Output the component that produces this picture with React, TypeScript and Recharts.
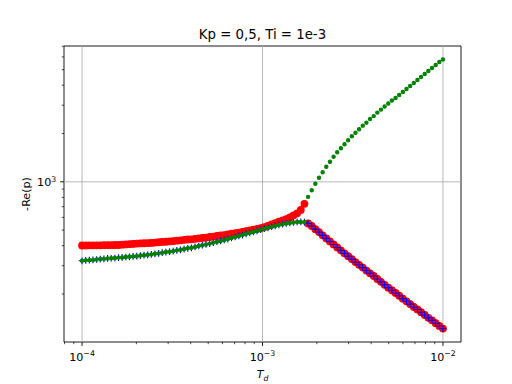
import React from 'react';
import {
  ScatterChart,
  Scatter,
  XAxis,
  YAxis,
  ReferenceLine,
  ReferenceArea,
} from 'recharts';

// derivative time constant, 100 log-spaced steps
const tdValues = [
  1.0e-4, 1.0476e-4, 1.0975e-4, 1.1498e-4, 1.2045e-4, 1.2619e-4, 1.3219e-4, 1.3849e-4, 1.4508e-4, 1.5199e-4,
  1.5923e-4, 1.6681e-4, 1.7475e-4, 1.8307e-4, 1.9179e-4, 2.0092e-4, 2.1049e-4, 2.2051e-4, 2.3101e-4, 2.4201e-4,
  2.5354e-4, 2.6561e-4, 2.7826e-4, 2.9151e-4, 3.0539e-4, 3.1993e-4, 3.3516e-4, 3.5112e-4, 3.6784e-4, 3.8535e-4,
  4.037e-4, 4.2292e-4, 4.4306e-4, 4.6416e-4, 4.8626e-4, 5.0941e-4, 5.3367e-4, 5.5908e-4, 5.857e-4, 6.1359e-4,
  6.4281e-4, 6.7342e-4, 7.0548e-4, 7.3907e-4, 7.7426e-4, 8.1113e-4, 8.4975e-4, 8.9022e-4, 9.326e-4, 9.7701e-4,
  1.0235e-3, 1.0723e-3, 1.1233e-3, 1.1768e-3, 1.2328e-3, 1.2915e-3, 1.353e-3, 1.4175e-3, 1.485e-3, 1.5557e-3,
  1.6298e-3, 1.7074e-3, 1.7886e-3, 1.8738e-3, 1.963e-3, 2.0565e-3, 2.1544e-3, 2.257e-3, 2.3645e-3, 2.4771e-3,
  2.595e-3, 2.7186e-3, 2.848e-3, 2.9836e-3, 3.1257e-3, 3.2745e-3, 3.4305e-3, 3.5938e-3, 3.7649e-3, 3.9442e-3,
  4.132e-3, 4.3288e-3, 4.5349e-3, 4.7508e-3, 4.977e-3, 5.214e-3, 5.4623e-3, 5.7224e-3, 5.9948e-3, 6.2803e-3,
  6.5793e-3, 6.8926e-3, 7.2208e-3, 7.5646e-3, 7.9248e-3, 8.3022e-3, 8.6975e-3, 9.1116e-3, 9.5455e-3, 1.0e-2,
];

// -Re(p) branches
const upperLeft = [
  401, 401, 402, 402, 402, 402, 403, 403, 403, 404,
  404, 406, 407, 409, 410, 412, 413, 414, 415, 416,
  418, 420, 422, 423, 425, 427, 430, 432, 435, 437,
  438, 441, 444, 447, 449, 453, 456, 460, 463, 466,
  470, 475, 479, 483, 488, 493, 498, 503, 508, 514,
  522, 532, 542, 553, 564, 574, 585, 600, 618, 636,
  668, 729,
];
const lowerLeft = [
  322, 324, 325, 326, 328, 330, 331, 333, 334, 335,
  337, 338, 340, 341, 343, 344, 347, 349, 351, 353,
  356, 358, 362, 365, 367, 370, 374, 377, 381, 385,
  388, 393, 398, 403, 407, 412, 418, 423, 428, 434,
  440, 447, 453, 460, 466, 474, 481, 488, 495, 503,
  510, 517, 525, 532, 539, 544, 550, 554, 558, 562,
  562, 560,
];
const lowerRight = [
  550, 531, 507, 486, 464, 444, 425, 407, 390, 374,
  358, 344, 330, 316, 304, 292, 280, 269, 259, 248,
  238, 228, 219, 211, 203, 195, 187, 180, 173, 166,
  160, 154, 148, 142, 137, 131.5, 126.4, 121.8,
];
const upperRight = [
  806, 885, 972, 1059, 1146, 1241, 1334, 1433, 1529, 1619,
  1714, 1815, 1923, 2023, 2128, 2239, 2338, 2460, 2567, 2700,
  2818, 2943, 3073, 3208, 3325, 3472, 3625, 3785, 3952, 4127,
  4308, 4498, 4696, 4903, 5120, 5345, 5581, 5788,
];

const xMajor = [1e-4, 1e-3, 1e-2];
const xMinor = [
  8e-5, 9e-5,
  2e-4, 3e-4, 4e-4, 5e-4, 6e-4, 7e-4, 8e-4, 9e-4,
  2e-3, 3e-3, 4e-3, 5e-3, 6e-3, 7e-3, 8e-3, 9e-3,
];
const yMajor = [1000];
const yMinor = [200, 300, 400, 500, 600, 700, 800, 900, 2000, 3000, 4000, 5000, 6000, 7000];

const xDomain = [7.943e-5, 1.2589e-2];
const yDomain = [100.4, 7021];

const FONT = 'DejaVu Sans';

const redData = tdValues.map((td, i) => ({
  td,
  re: i < upperLeft.length ? upperLeft[i] : lowerRight[i - upperLeft.length],
}));
const blueData = tdValues.map((td, i) => ({
  td,
  re: i < lowerLeft.length ? lowerLeft[i] : lowerRight[i - lowerLeft.length],
}));
const greenData = tdValues.map((td, i) => ({
  td,
  re: i < lowerLeft.length ? lowerLeft[i] : upperRight[i - lowerLeft.length],
}));

const expOf = (v: number) => String(Math.round(Math.log10(v))).replace('-', '\u2212');

const XTick = (props: any) => {
  const { x, y, payload } = props;
  const major = xMajor.includes(payload.value);
  return (
    <g>
      <line x1={x} x2={x} y1={y} y2={y + (major ? 3.9 : 2.2)} stroke="#000" strokeWidth={major ? 0.9 : 0.7} />
      {major && (
        <text x={x} y={y + 18.5} textAnchor="middle" fontFamily={FONT} fontSize={11.1} fill="#000">
          10
          <tspan dy={-4.8} fontSize={7.8}>{expOf(payload.value)}</tspan>
        </text>
      )}
    </g>
  );
};

const YTick = (props: any) => {
  const { x, y, payload } = props;
  const major = yMajor.includes(payload.value);
  return (
    <g>
      <line x1={x} x2={x - (major ? 3.9 : 2.2)} y1={y} y2={y} stroke="#000" strokeWidth={major ? 0.9 : 0.7} />
      {major && (
        <text x={x - 7.8} y={y + 4.5} textAnchor="end" fontFamily={FONT} fontSize={11.1} fill="#000">
          10
          <tspan dy={-4.8} fontSize={7.8}>{expOf(payload.value)}</tspan>
        </text>
      )}
    </g>
  );
};

const RedDot = (p: any) => (
  <circle cx={p.cx} cy={p.cy} r={3.35} fill="#ff0000" stroke="#ff0000" strokeWidth={1.1} />
);
const BluePlus = (p: any) => (
  <path
    d={`M${p.cx - 3.35},${p.cy}H${p.cx + 3.35}M${p.cx},${p.cy - 3.35}V${p.cy + 3.35}`}
    stroke="#0000ff"
    strokeWidth={1.1}
    fill="none"
  />
);
const GreenDot = (p: any) => (
  <circle cx={p.cx} cy={p.cy} r={1.67} fill="#008000" stroke="#008000" strokeWidth={1.1} />
);

export default function App() {
  return (
    <div style={{ position: 'absolute', left: 0, top: 0, background: '#fff' }}>
      <ScatterChart width={512} height={384} margin={{ top: 46, right: 51, bottom: 0, left: 0 }}>
        <XAxis
          dataKey="td"
          type="number"
          scale="log"
          domain={xDomain}
          allowDataOverflow
          ticks={[...xMajor, ...xMinor]}
          interval={0}
          tick={<XTick />}
          tickSize={0}
          tickMargin={0}
          tickLine={false}
          axisLine={false}
          height={42}
        />
        <YAxis
          dataKey="re"
          type="number"
          scale="log"
          domain={yDomain}
          allowDataOverflow
          ticks={[...yMajor, ...yMinor]}
          interval={0}
          tick={<YTick />}
          tickSize={0}
          tickMargin={0}
          tickLine={false}
          axisLine={false}
          width={64}
        />
        {xMajor.map((v) => (
          <ReferenceLine key={`gx${v}`} x={v} stroke="#b0b0b0" strokeWidth={0.9} />
        ))}
        {yMajor.map((v) => (
          <ReferenceLine key={`gy${v}`} y={v} stroke="#b0b0b0" strokeWidth={0.9} />
        ))}
        <Scatter data={redData} shape={RedDot} isAnimationActive={false} />
        <Scatter data={blueData} shape={BluePlus} isAnimationActive={false} />
        <Scatter data={greenData} shape={GreenDot} isAnimationActive={false} />
        <ReferenceArea
          x1={xDomain[0]}
          x2={xDomain[1]}
          y1={yDomain[0]}
          y2={yDomain[1]}
          fill="none"
          stroke="#000"
          strokeWidth={0.9}
        />
        <text x={262.5} y={39.3} textAnchor="middle" fontFamily={FONT} fontSize={13.3} fill="#000">
          Kp = 0,5, Ti = 1e-3
        </text>
        <text x={262.5} y={378} textAnchor="middle" fontFamily={FONT} fontSize={11.1} fontStyle="italic" fill="#000">
          T
          <tspan dy={2.6} fontSize={7.8}>d</tspan>
        </text>
        <text
          x={29.5}
          y={194}
          textAnchor="middle"
          transform="rotate(-90 29.5 194)"
          fontFamily={FONT}
          fontSize={11.1}
          fill="#000"
        >
          -Re(p)
        </text>
      </ScatterChart>
    </div>
  );
}
